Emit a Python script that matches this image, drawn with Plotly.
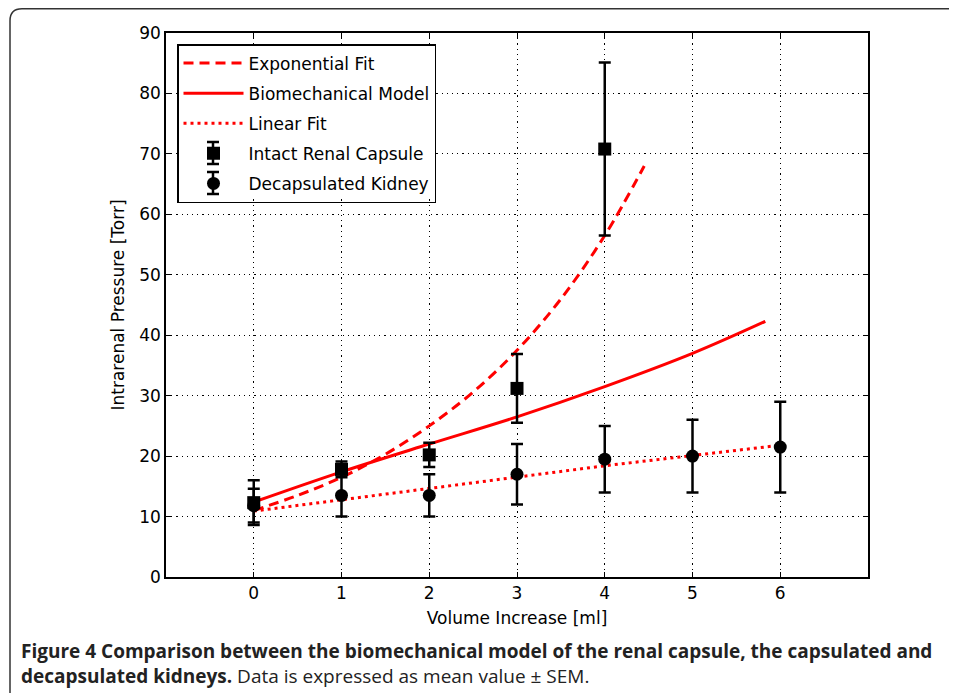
import plotly.graph_objects as go

# ---- data ----
intact_x = [0, 1, 2, 3, 4]
intact_mean = [12.3, 17.8, 20.2, 31.2, 70.8]
intact_sem = [3.7, 1.3, 2.0, 5.7, 14.3]

decap_x = [0, 1, 2, 3, 4, 5, 6]
decap_mean = [11.8, 13.5, 13.5, 17.0, 19.5, 20.0, 21.5]
decap_sem = [2.8, 3.5, 3.5, 5.0, 5.5, 6.0, 7.5]

exp_x = [0, 0.5, 1, 1.5, 2, 2.5, 3, 3.5, 4, 4.45]
exp_y = [11.0, 13.5, 16.5, 20.3, 25.0, 30.6, 37.5, 46.0, 56.5, 68.0]

bio_x = [0, 1, 2, 3, 4, 5, 5.83]
bio_y = [12.4, 17.4, 22.0, 26.5, 31.5, 37.0, 42.3]

lin_x = [0, 1, 2, 3, 4, 5, 6]
lin_y = [10.9, 12.8, 14.7, 16.6, 18.4, 20.1, 21.8]

x_ticks = [0, 1, 2, 3, 4, 5, 6]
y_ticks = [0, 10, 20, 30, 40, 50, 60, 70, 80, 90]

FONT = "DejaVu Sans"
RED = "#ff0000"

fig = go.Figure()
fig.add_trace(go.Scatter(x=exp_x, y=exp_y, mode="lines", name="Exponential Fit", legendgroup="a",
                         line=dict(color=RED, width=3, dash="10px,6px", shape="spline")))
fig.add_trace(go.Scatter(x=bio_x, y=bio_y, mode="lines", name="Biomechanical Model", legendgroup="b",
                         line=dict(color=RED, width=3, shape="spline")))
fig.add_trace(go.Scatter(x=lin_x, y=lin_y, mode="lines", name="Linear Fit", legendgroup="c",
                         line=dict(color=RED, width=3, dash="3px,4px")))
fig.add_trace(go.Scatter(x=intact_x, y=intact_mean, mode="markers", name="Intact Renal Capsule",
                         legendgroup="d",
                         marker=dict(symbol="square", size=13, color="black"),
                         error_y=dict(type="data", array=intact_sem, color="black",
                                      thickness=2.5, width=6)))
fig.add_trace(go.Scatter(x=decap_x, y=decap_mean, mode="markers", name="Decapsulated Kidney",
                         legendgroup="e",
                         marker=dict(symbol="circle", size=13, color="black"),
                         error_y=dict(type="data", array=decap_sem, color="black",
                                      thickness=2.5, width=6)))

# page offset of the plot div (browser body margin)
OFF = 8
PAGE_W, PAGE_H = 957, 693
W, H = PAGE_W - OFF, PAGE_H - OFF
# plot area in page pixels
PL, PR, PT, PB = 166, 868, 33, 577
L, R, T, B = PL - OFF, PAGE_W - PR, PT - OFF, PAGE_H - PB
pw, ph = W - L - R, H - T - B

def px(xpage):
    return (xpage - PL) / pw

def py(ypage):
    return (PB - ypage) / ph

axis_common = dict(showline=True, linecolor="black", linewidth=1.5, mirror="ticks",
                   ticks="inside", ticklen=5, tickwidth=1, tickcolor="black",
                   showgrid=True, gridcolor="black", gridwidth=1.2, griddash="1.2px,4px",
                   zeroline=False,
                   tickfont=dict(family=FONT, size=17, color="black"))

fig.update_xaxes(range=[-1, 7], tickvals=x_ticks,
                 title=dict(text="Volume Increase [ml]", font=dict(family=FONT, size=17, color="black"),
                            standoff=10),
                 **axis_common)
fig.update_yaxes(range=[0, 90], tickvals=y_ticks,
                 title=dict(text="Intrarenal Pressure [Torr]", font=dict(family=FONT, size=17, color="black"),
                            standoff=10),
                 **axis_common)

# outer rounded figure frame
x0, y0 = px(10), py(8.8)
x1, y1 = px(1000), py(720)
rx, ry = 12 / pw, 12 / ph
fig.add_shape(type="path", xref="paper", yref="paper",
              path=f"M {x0},{y1} L {x0},{y0 - ry} Q {x0},{y0} {x0 + rx},{y0} L {x1},{y0}",
              line=dict(color="#333333", width=1.5))

# white legend background (legend itself is transparent so the glyphs below show)
fig.add_shape(type="rect", xref="paper", yref="paper",
              x0=px(178), x1=px(434), y0=py(45), y1=py(199),
              fillcolor="white", line=dict(width=0), layer="above")

# error-bar glyphs behind the legend markers (as in the reference legend)
for cy in (153, 183):
    fig.add_shape(type="line", xref="paper", yref="paper",
                  x0=px(213), x1=px(213), y0=py(cy - 11), y1=py(cy + 11),
                  line=dict(color="black", width=2.5), layer="above")
    for cap in (cy - 11, cy + 11):
        fig.add_shape(type="line", xref="paper", yref="paper",
                      x0=px(207), x1=px(219), y0=py(cap), y1=py(cap),
                      line=dict(color="black", width=2.5), layer="above")

fig.add_annotation(xref="paper", yref="paper", x=px(19), y=py(651), xanchor="left", yanchor="middle",
                   showarrow=False, align="left",
                   text="<b>Figure 4 Comparison between the biomechanical model of the renal capsule, the capsulated and</b>",
                   font=dict(family="Open Sans", size=19, color="#222222"))
fig.add_annotation(xref="paper", yref="paper", x=px(19), y=py(676), xanchor="left", yanchor="middle",
                   showarrow=False, align="left",
                   text="<b>decapsulated kidneys.</b> Data is expressed as mean value ± SEM.",
                   font=dict(family="Open Sans", size=19, color="#222222"))

fig.update_layout(
    width=W, height=H,
    margin=dict(l=L, r=R, t=T, b=B),
    paper_bgcolor="white", plot_bgcolor="white",
    showlegend=True,
    legend=dict(x=px(177), y=py(44), xanchor="left", yanchor="top",
                bgcolor="rgba(0,0,0,0)", bordercolor="black", borderwidth=1.5,
                font=dict(family=FONT, size=17, color="black"),
                itemwidth=60, tracegroupgap=5),
)

fig.write_html("out.html")
